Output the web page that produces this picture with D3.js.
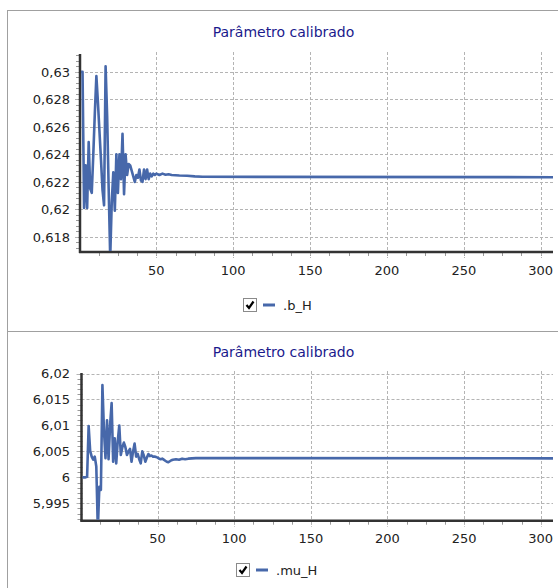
<!DOCTYPE html>
<html lang="pt">
<head>
<meta charset="utf-8">
<title>Parâmetro calibrado</title>
<script src="https://d3js.org/d3.v7.min.js"></script>
<style>
  body { margin: 0; background: #fff; }
  svg { display: block; font-family: "DejaVu Sans", Verdana, sans-serif; }
</style>
</head>
<body>
<div id="chart"></div>
<script>
// calibration iteration and value of .b_H
const bIter = [1, 2, 3, 4, 5, 6, 7, 8, 9, 10,
  11, 12, 13, 14, 15, 16, 17, 18, 19, 20,
  21, 22, 23, 24, 25, 26, 27, 28, 29, 30,
  31, 32, 33, 34, 35, 36, 37, 38, 39, 40,
  41, 42, 43, 44, 45, 46, 47, 48, 49, 50,
  52, 54, 56, 58, 60, 65, 70, 75, 80, 308];
const bValue = [0.6300, 0.6300, 0.6201, 0.6232, 0.6201, 0.6249, 0.6215, 0.6212, 0.6240, 0.6270,
  0.6297, 0.6278, 0.6257, 0.6236, 0.6214, 0.6203, 0.6304, 0.6268, 0.6215, 0.6165,
  0.6205, 0.6227, 0.6199, 0.6240, 0.6212, 0.6240, 0.6222, 0.6255, 0.6211, 0.6240,
  0.6225, 0.6233, 0.6232, 0.6228, 0.6224, 0.6220, 0.6225, 0.6223, 0.6229, 0.6221,
  0.6220, 0.6229, 0.6222, 0.6229, 0.6222, 0.6226, 0.6224, 0.6226, 0.6225, 0.6226,
  0.6225, 0.6226, 0.62252, 0.62255, 0.6225, 0.62246, 0.62245, 0.6224, 0.62237, 0.62234];

// calibration iteration and value of .mu_H
const muIter = [1, 2, 3, 4, 5, 6, 7, 8, 9, 10,
  11, 12, 13, 14, 15, 16, 17, 18, 19, 20,
  21, 22, 23, 24, 25, 26, 27, 28, 29, 30,
  31, 32, 33, 34, 35, 36, 37, 38, 39, 40,
  41, 42, 43, 44, 45, 46, 47, 48, 49, 50,
  51, 52, 53, 54, 55, 56, 57, 58, 59, 60,
  62, 64, 66, 68, 70, 75, 80, 308];
const muValue = [6.0000, 6.0000, 6.0000, 6.0001, 6.0099, 6.0051, 6.0040, 6.0034, 6.0040, 6.0021,
  5.9900, 5.9982, 5.9976, 6.0178, 6.0090, 6.0037, 6.0110, 6.0035, 6.0100, 6.0143,
  6.0030, 6.0075, 6.0027, 6.0070, 6.0100, 6.0043, 6.0058, 6.0067, 6.0058, 6.0043,
  6.0050, 6.0055, 6.0030, 6.0050, 6.0065, 6.0040, 6.0045, 6.0035, 6.0027, 6.0050,
  6.0042, 6.0030, 6.0038, 6.0045, 6.0041, 6.0042, 6.0040, 6.0040, 6.0039, 6.0038,
  6.0036, 6.0035, 6.0036, 6.0034, 6.0032, 6.0030, 6.0029, 6.0031, 6.0033, 6.0034,
  6.0035, 6.0034, 6.0036, 6.0035, 6.0036, 6.0037, 6.0037, 6.00366];

const xTicks = [50, 100, 150, 200, 250, 300];
const bTicks = [0.618, 0.62, 0.622, 0.624, 0.626, 0.628, 0.63];
const muTicks = [5.995, 6, 6.005, 6.01, 6.015, 6.02];
const chartTitle = "Parâmetro calibrado";
const seriesNames = [".b_H", ".mu_H"];

const lineColor = "#4768aa";
const gridColor = "#b4b4b4";

// decimal comma, like the original
const fmt = d3.formatLocale({ decimal: ",", thousands: ".", grouping: [3], currency: ["", ""] }).format(".4~r");

const svg = d3.select("#chart").append("svg")
    .attr("width", 558)
    .attr("height", 588);

const panels = [
    { frameTop: 10, frameHeight: 321, left: 81, right: 553, top: 54, bottom: 252,
      yDomain: [0.6169, 0.6313], yTicks: bTicks, yMinor: 0.0004,
      iter: bIter, value: bValue, name: seriesNames[0],
      titleY: 37, xLabelY: 275, legendX: 243, legendY: 298 },
    { frameTop: 331, frameHeight: 300, left: 82.5, right: 553, top: 373, bottom: 520.7,
      yDomain: [5.99165, 6.0201], yTicks: muTicks, yMinor: 0.001,
      iter: muIter, value: muValue, name: seriesNames[1],
      titleY: 357, xLabelY: 543, legendX: 236, legendY: 563 }
];

panels.forEach((p, k) => drawPanel(p, k));

function drawPanel(p, k) {
    const g = svg.append("g");

    // panel frame
    g.append("rect")
        .attr("x", 7.5).attr("y", p.frameTop + 0.5)
        .attr("width", 600).attr("height", p.frameHeight)
        .attr("fill", "#fff")
        .attr("stroke", "#a0a0a0");

    g.append("text")
        .attr("x", 283.5).attr("y", p.titleY)
        .attr("text-anchor", "middle")
        .attr("fill", "#1a1a8c")
        .style("font-size", "14px")
        .text(chartTitle);

    const x = d3.scaleLinear().domain([1, 308]).range([p.left, p.right]);
    const y = d3.scaleLinear().domain(p.yDomain).range([p.bottom, p.top]);

    // minor ticks
    const yMinor = d3.range(Math.ceil(p.yDomain[0] / p.yMinor) * p.yMinor, p.yDomain[1], p.yMinor);
    g.selectAll(".ym").data(yMinor).join("line")
        .attr("x1", p.left - 5).attr("x2", p.left)
        .attr("y1", d => Math.round(y(d)) + 0.5).attr("y2", d => Math.round(y(d)) + 0.5)
        .attr("stroke", "#9a9a9a");
    const xMinor = d3.range(12.5, 308, 12.5);
    g.selectAll(".xm").data(xMinor).join("line")
        .attr("x1", d => Math.round(x(d)) + 0.5).attr("x2", d => Math.round(x(d)) + 0.5)
        .attr("y1", p.bottom).attr("y2", p.bottom + 4)
        .attr("stroke", "#9a9a9a");

    // dashed grid
    g.selectAll(".gy").data(p.yTicks).join("line")
        .attr("x1", p.left - 6).attr("x2", p.right)
        .attr("y1", d => Math.round(y(d)) + 0.5).attr("y2", d => Math.round(y(d)) + 0.5)
        .attr("stroke", gridColor)
        .attr("stroke-dasharray", "3,2");
    g.selectAll(".gx").data(xTicks).join("line")
        .attr("x1", d => Math.round(x(d)) + 0.5).attr("x2", d => Math.round(x(d)) + 0.5)
        .attr("y1", p.top - 2).attr("y2", p.bottom + 6)
        .attr("stroke", gridColor)
        .attr("stroke-dasharray", "3,2");

    // tick labels
    g.selectAll(".ly").data(p.yTicks).join("text")
        .attr("x", 70).attr("y", d => y(d))
        .attr("dy", "0.36em")
        .attr("text-anchor", "end")
        .attr("fill", "#222")
        .style("font-size", "13px")
        .text(d => fmt(d));
    g.selectAll(".lx").data(xTicks).join("text")
        .attr("x", d => x(d)).attr("y", p.xLabelY)
        .attr("text-anchor", "middle")
        .attr("fill", "#222")
        .style("font-size", "13px")
        .text(d => d);

    // axis lines
    g.append("line")
        .attr("x1", p.left - 1).attr("x2", p.left - 1)
        .attr("y1", p.top).attr("y2", p.bottom + 1)
        .attr("stroke", "#333").attr("stroke-width", 2.5);
    g.append("line")
        .attr("x1", p.left - 2).attr("x2", p.right)
        .attr("y1", p.bottom).attr("y2", p.bottom)
        .attr("stroke", "#333").attr("stroke-width", 2.5);

    // the series, clipped to the plot, drawn over the axis line
    g.append("clipPath").attr("id", "clip" + k)
        .append("rect")
        .attr("x", p.left - 1).attr("y", p.top)
        .attr("width", p.right - p.left + 1).attr("height", p.bottom - p.top - 1);

    const line = d3.line()
        .x(d => x(d[0]))
        .y(d => y(d[1]));

    g.append("path")
        .datum(d3.zip(p.iter, p.value))
        .attr("clip-path", "url(#clip" + k + ")")
        .attr("fill", "none")
        .attr("stroke", lineColor)
        .attr("stroke-width", 2.6)
        .attr("stroke-linejoin", "round")
        .attr("d", line);

    // legend with checkbox
    const lg = g.append("g").attr("transform", "translate(" + p.legendX + "," + p.legendY + ")");
    lg.append("rect")
        .attr("x", 0.5).attr("y", 0.5)
        .attr("width", 13).attr("height", 13)
        .attr("fill", "#fff")
        .attr("stroke", "#8a8a8a");
    lg.append("path")
        .attr("d", "M3.5,7 L6,10 L10.5,3.5")
        .attr("fill", "none")
        .attr("stroke", "#000")
        .attr("stroke-width", 2.2);
    lg.append("line")
        .attr("x1", 20).attr("x2", 32)
        .attr("y1", 7).attr("y2", 7)
        .attr("stroke", lineColor)
        .attr("stroke-width", 3);
    lg.append("text")
        .attr("x", 40).attr("y", 12)
        .attr("fill", "#222")
        .style("font-size", "13px")
        .text(p.name);
}
</script>
</body>
</html>
